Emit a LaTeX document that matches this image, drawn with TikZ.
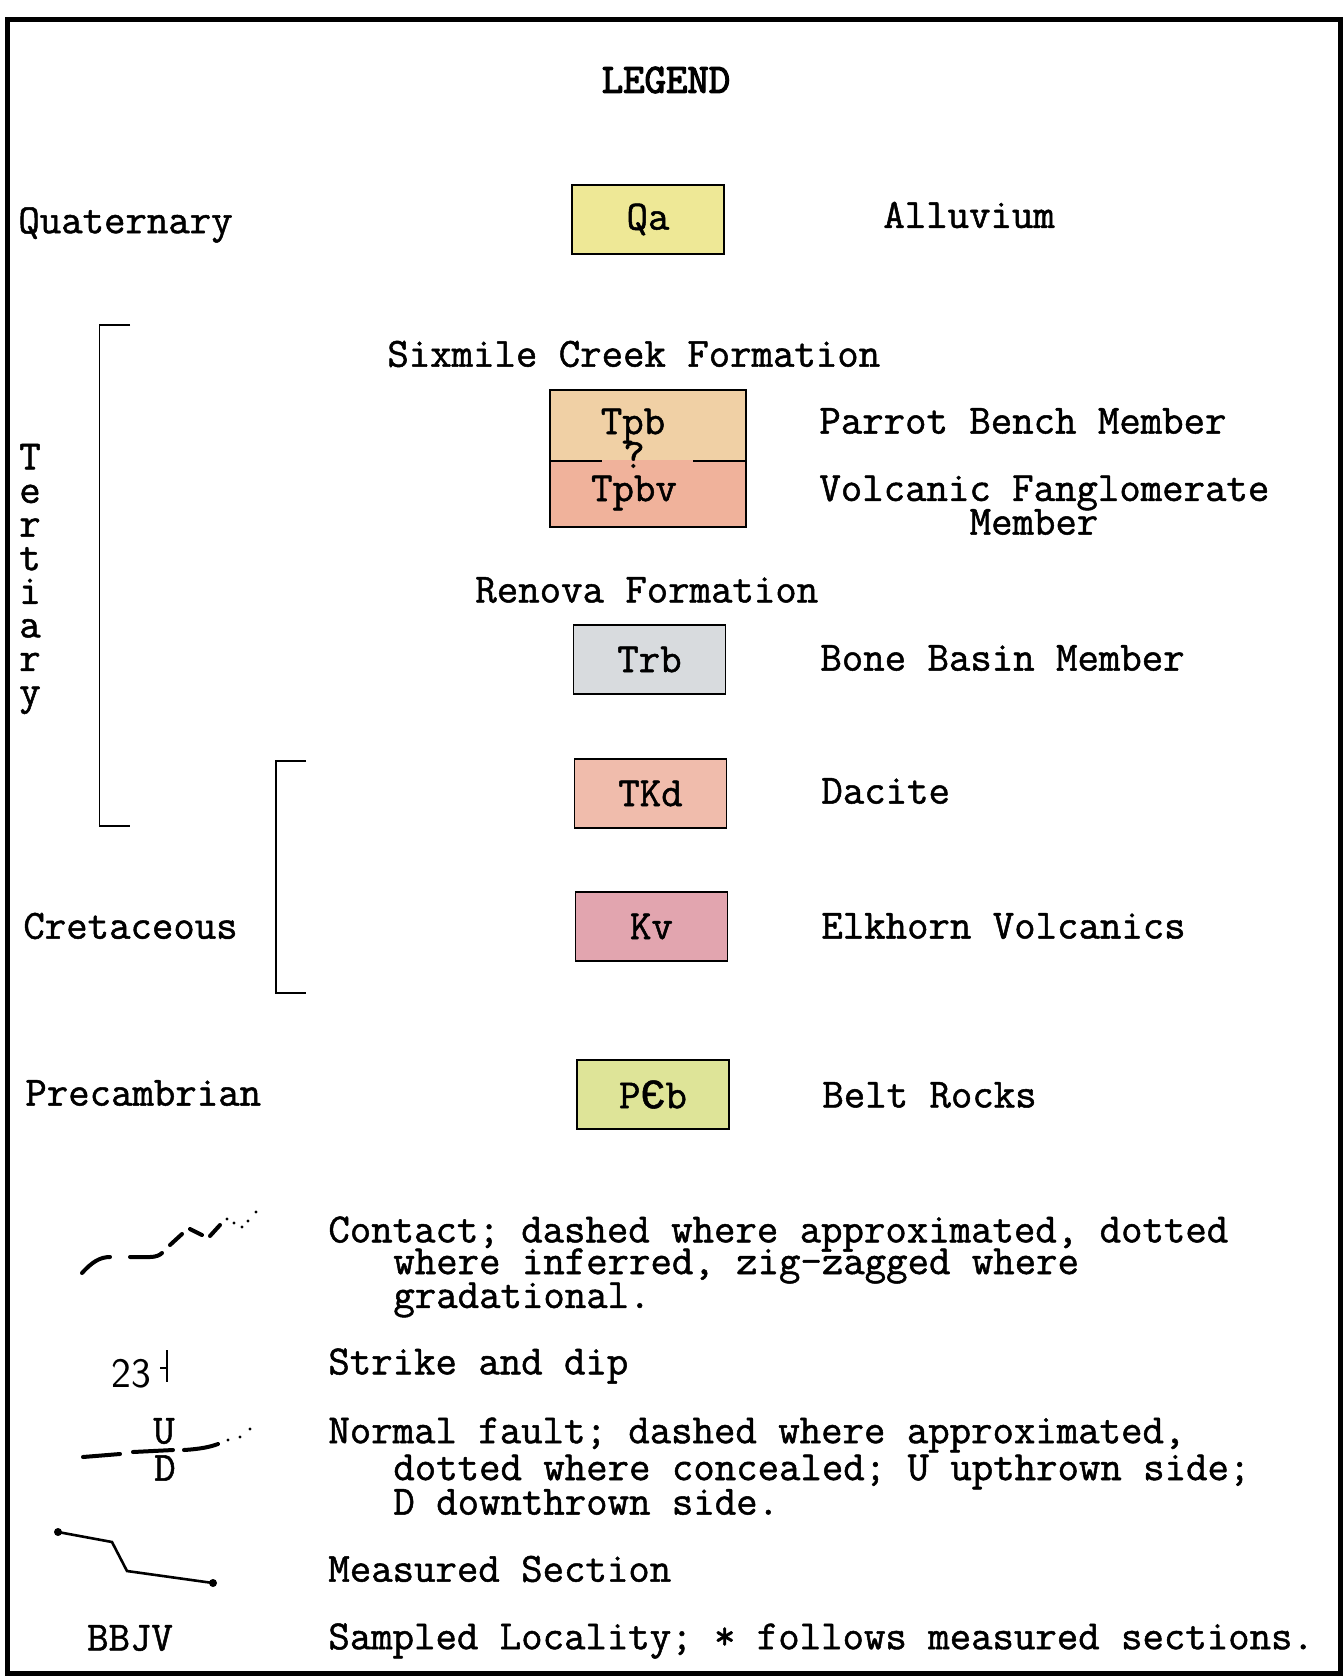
\documentclass[tikz,border=0pt]{standalone}
\usepackage{fontspec}
\newfontfamily\legendtt{Latin Modern Mono}[FakeBold=1.2]
\newfontfamily\titlett{Latin Modern Mono}[FakeBold=3]
\newfontfamily\cyrmono{Liberation Mono}[FakeBold=1.2]
\definecolor{qacol}{RGB}{238,232,150}
\definecolor{tpbcol}{RGB}{240,208,165}
\definecolor{tpbvcol}{RGB}{240,178,155}
\definecolor{trbcol}{RGB}{216,219,222}
\definecolor{tkdcol}{RGB}{240,188,172}
\definecolor{kvcol}{RGB}{226,165,175}
\definecolor{pcbcol}{RGB}{222,228,152}
\begin{document}
\begin{tikzpicture}[x=0.5pt,y=-0.5pt,
	every node/.style={ font=\fontsize{20.8}{16.8}\selectfont\legendtt, inner sep=0pt },
	mapunit/.style={ draw, line width=0.8pt, minimum width=76pt, minimum height=34.5pt },
	desc/.style={ anchor=west },
	symline/.style={ line width=2pt, line cap=round },
	thinline/.style={ line width=0.8pt }
]

\useasboundingbox (0,0) rectangle (1344,1676);
\draw[line width=2.5pt] (7,19) rectangle (1340,1673);

\node[font=\fontsize{20.8}{16}\selectfont\titlett] (title) at (666,80) {LEGEND};

% map units
\node[mapunit, fill=qacol] (qa) at (648,219.5) {Qa};
\node[mapunit, draw=none, fill=tpbcol, minimum width=97pt] (tpb) at (648,425.5) {};
\node[mapunit, draw=none, fill=tpbvcol, minimum width=97pt, minimum height=33pt] (tpbv) at (648,493) {};
\draw[thinline] (tpb.north west) rectangle (tpbv.south east);
\draw[thinline] (tpb.south west) -- ++(52,0);
\draw[thinline] (tpb.south east) -- ++(-53,0);
\node (tpbtxt) at (633,426) {Tpb};
\node (tpbq) at (634,455) {?};
\node (tpbvtxt) at (634,493) {Tpbv};
\node[mapunit, fill=trbcol] (trb) at (649.5,659.5) {Trb};
\node[mapunit, fill=tkdcol] (tkd) at (650.5,793.5) {TKd};
\node[mapunit, fill=kvcol] (kv) at (651.5,926.5) {Kv};
\node[mapunit, fill=pcbcol] (pcb) at (653,1094.5) {P{\cyrmono Є}b};

% ages
\node[desc] (quat) at (18,225) {Quaternary};
\node[align=center] (tert) at (30,579) {T\\e\\r\\t\\i\\a\\r\\y};
\node[desc] (cret) at (23,926) {Cretaceous};
\node[desc] (precamb) at (25,1093) {Precambrian};
\draw[thinline] (130,325) -- (99.5,325) -- (99.5,826) -- (130,826);
\draw[thinline] (306,761) -- (276,761) -- (276,993) -- (306,993);

% formations and members
\node[desc] (sixmile) at (387,354) {Sixmile Creek Formation};
\node[desc] (renova) at (475,590) {Renova Formation};
\node[desc] (alluv) at (883,215) {Alluvium};
\node[desc] (parrot) at (819,421) {Parrot Bench Member};
\node[desc] (volcfan) at (819,493) {Volcanic Fanglomerate};
\node (volcmem) at (1034,522) {Member};
\node[desc] (bonebas) at (820,658) {Bone Basin Member};
\node[desc] (dacite) at (821,791) {Dacite};
\node[desc] (elkhorn) at (821,926) {Elkhorn Volcanics};
\node[desc] (belt) at (822,1095) {Belt Rocks};

% contact
\draw[symline] (82,1273) .. controls (92,1262) and (100,1257) .. (110,1257);
\draw[symline] (130,1257) -- (150,1257) .. controls (156,1257) and (160,1255) .. (162,1253);
\draw[symline] (170,1245) -- (182,1234);
\draw[symline] (190,1229) -- (202,1235);
\draw[symline] (210,1236) -- (220,1225);
\foreach \p in {(227,1219),(234,1223),(242,1227),(248,1221),(256,1212)}
	\fill \p circle (0.8pt);
\node[desc] (cont1) at (328,1234) {Contact; dashed where approximated, dotted};
\node[desc] (cont2) at (393,1266) {where inferred, zig-zagged where};
\node[desc] (cont3) at (393,1300) {gradational.};

% strike and dip
\node[font=\fontsize{21}{16}\selectfont\sffamily] (dip) at (131,1374) {23};
\draw[thinline] (167,1350) -- (167,1382);
\draw[thinline] (160,1368) -- (167,1368);
\node[desc] (strike) at (328,1366) {Strike and dip};

% normal fault
\draw[symline] (83,1457) -- (120,1454);
\draw[symline] (133,1452) -- (173,1450);
\draw[symline] (184,1450) .. controls (200,1449) and (210,1447) .. (218,1444);
\foreach \p in {(228,1440),(240,1437),(250,1429)}
	\fill \p circle (0.8pt);
\node (upth) at (164,1431) {U};
\node (downth) at (165,1468) {D};
\node[desc] (fault1) at (328,1435) {Normal fault; dashed where approximated,};
\node[desc] (fault2) at (393,1472) {dotted where concealed; U upthrown side;};
\node[desc] (fault3) at (393,1502) {D downthrown side.};

% measured section
\draw[line width=1.3pt] (58,1532) -- (112,1542) -- (127,1571) -- (213,1583);
\fill (58,1532) circle (2pt);
\fill (213,1583) circle (2pt);
\node[desc] (meas) at (328,1569) {Measured Section};

% sampled locality
\node (bbjv) at (130,1638) {BBJV};
\node[desc] (sampled) at (328,1641) {Sampled Locality; * follows measured sections.};

\end{tikzpicture}
\end{document}
